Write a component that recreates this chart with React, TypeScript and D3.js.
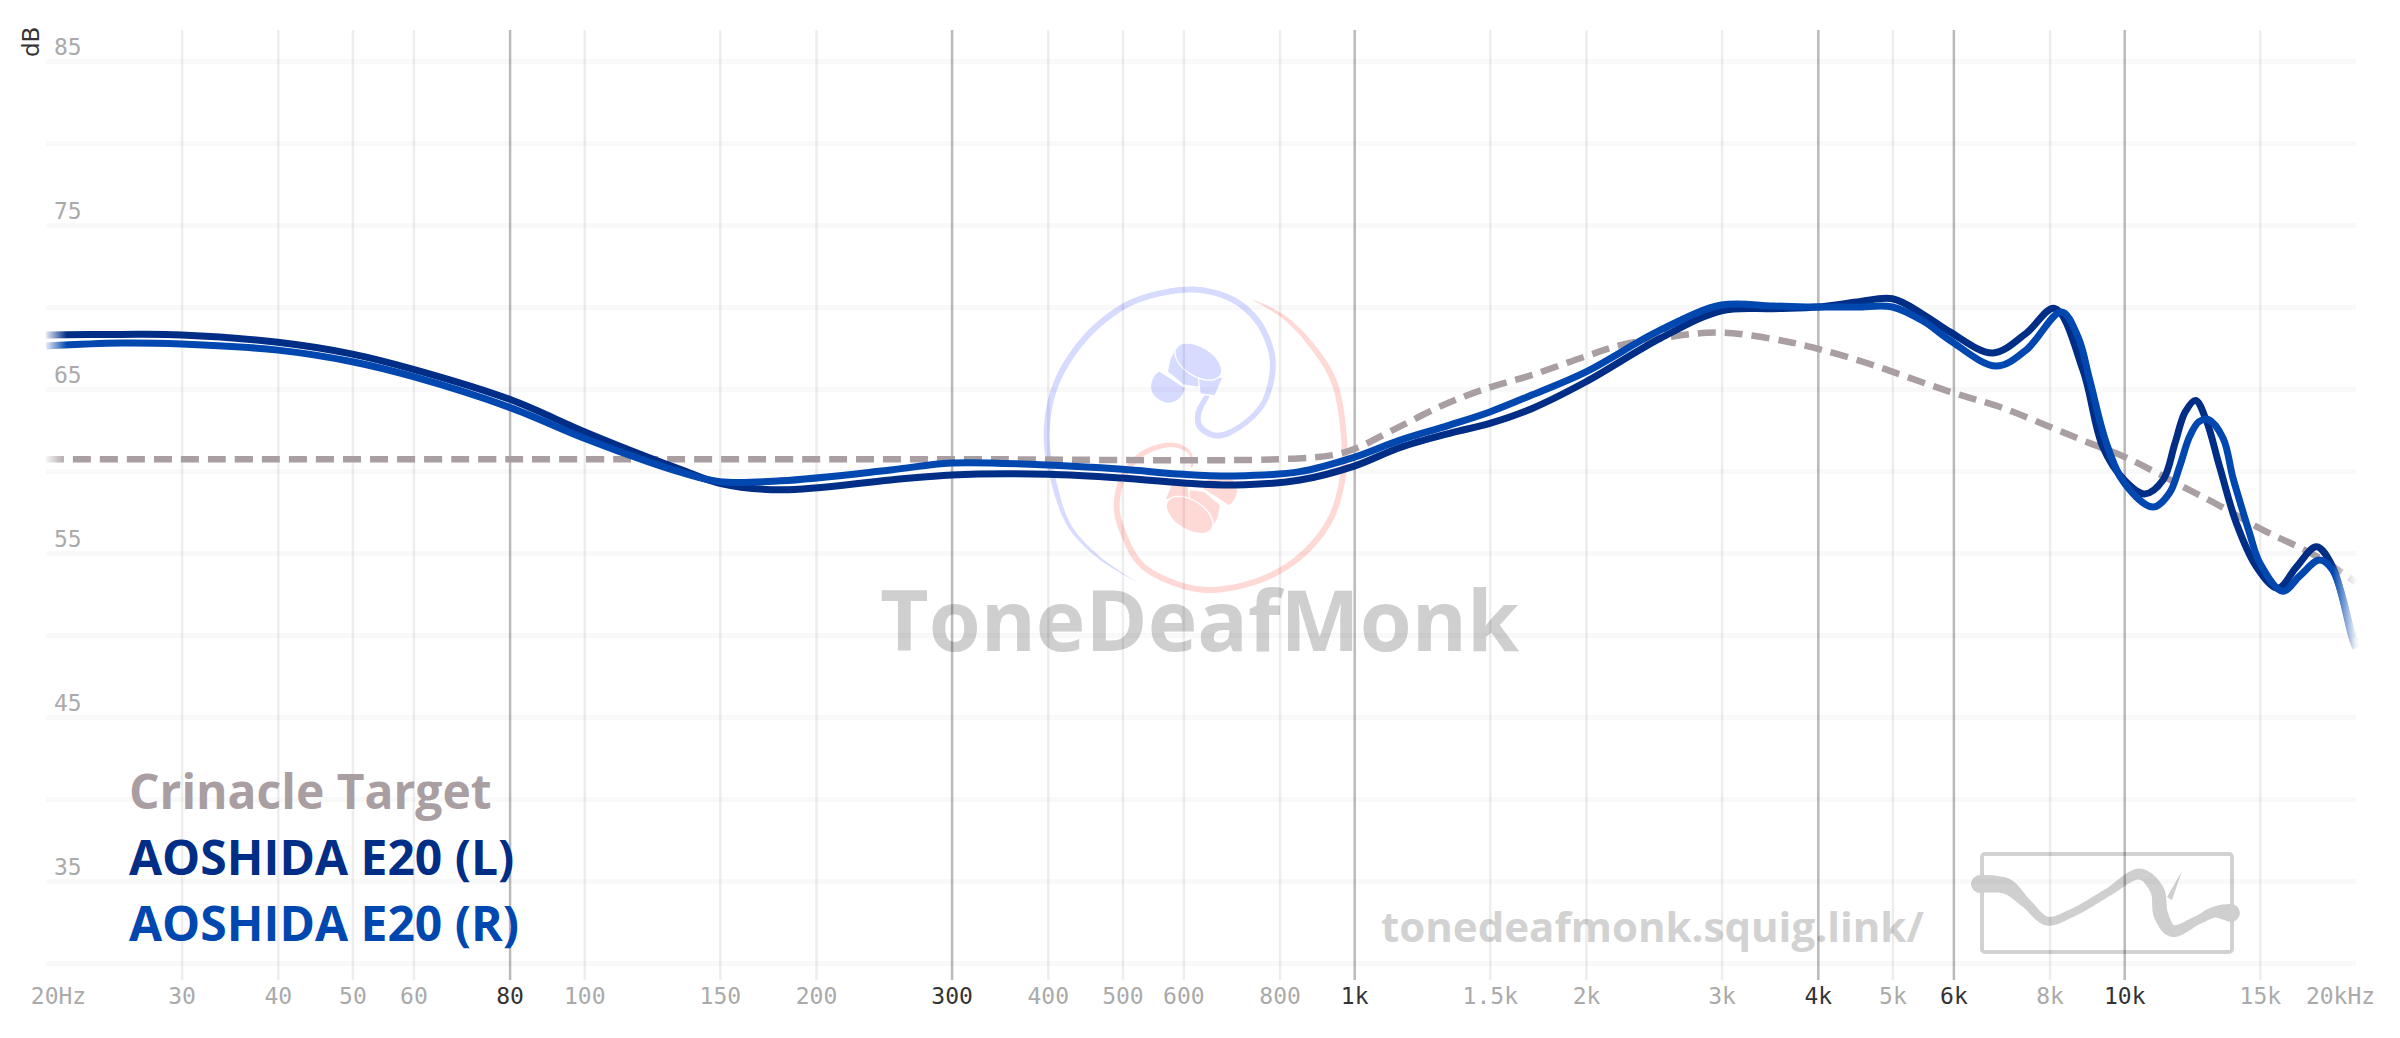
import { useEffect, useRef } from 'react';
import * as d3 from 'd3';

const WIDTH = 2400;
const HEIGHT = 1038;

const margin = { left: 46, right: 44, top: 30, bottom: 58 };

const freqTicks = [20, 30, 40, 50, 60, 80, 100, 150, 200, 300, 400, 500, 600, 800, 1000, 1500, 2000, 3000, 4000, 5000, 6000, 8000, 10000, 15000, 20000];
const boldTicks = [80, 300, 1000, 4000, 6000, 10000];
const dbLines = [85, 80, 75, 70, 65, 60, 55, 50, 45, 40, 35, 30];
const dbLabels = [85, 75, 65, 55, 45, 35];

const leftFreq = [20, 25, 30, 40, 50, 60, 80, 100, 121, 134, 150, 180, 250, 300, 400, 500, 600, 700, 850, 1000, 1145, 1330, 1500, 1700, 2000, 2500, 3000, 3500, 4000, 4500, 5000, 5500, 5930, 6750, 7460, 8120, 8840, 9380, 10000, 10630, 11230, 11640, 12000, 12380, 12780, 13300, 13990, 14850, 15840, 16740, 17770, 18650, 19800, 20000];
const leftDb = [68.29, 68.33, 68.3, 67.85, 67.13, 66.2, 64.37, 62.4, 60.84, 60.06, 59.25, 58.85, 59.45, 59.76, 59.8, 59.57, 59.27, 59.15, 59.45, 60.3, 61.42, 62.3, 62.9, 63.8, 65.44, 68.1, 69.77, 69.9, 70.0, 70.3, 70.5, 69.5, 68.5, 67.2, 68.4, 69.92, 66.15, 61.48, 59.45, 58.6, 59.45, 61.7, 63.6, 64.3, 63.1, 60.27, 56.8, 54.16, 52.85, 54.16, 55.38, 54.16, 49.7, 49.2];

const rightFreq = [20, 25, 30, 40, 50, 60, 80, 100, 121, 134, 150, 180, 250, 300, 400, 500, 600, 700, 850, 1000, 1145, 1330, 1500, 1700, 2000, 2500, 3000, 3500, 4000, 4500, 5000, 5500, 5930, 6820, 7460, 8290, 8710, 9020, 9480, 10000, 10900, 11450, 11800, 12160, 12500, 12850, 13440, 13830, 14120, 14550, 15000, 16070, 16900, 17940, 18650, 19800, 20000];
const rightDb = [67.62, 67.8, 67.74, 67.37, 66.66, 65.75, 63.88, 62.0, 60.57, 59.9, 59.35, 59.4, 60.06, 60.49, 60.36, 60.1, 59.8, 59.7, 59.96, 60.84, 61.87, 62.8, 63.6, 64.63, 66.05, 68.6, 70.12, 70.06, 70.0, 70.0, 70.0, 69.1, 67.99, 66.4, 67.38, 69.7, 68.17, 65.55, 61.7, 59.27, 57.8, 58.66, 60.26, 62.1, 63.0, 63.15, 62.0, 59.65, 58.2, 56.2, 54.4, 52.67, 53.6, 54.57, 53.96, 50.0, 49.6];

const targetFreq = [20, 100, 300, 800, 937, 1000, 1134, 1317, 1500, 1700, 2000, 2230, 2500, 2870, 3100, 3640, 4000, 4620, 5930, 6900, 8000, 9020, 10000, 12160, 13400, 15000, 17770, 19800, 20000];
const targetDb = [60.72, 60.72, 60.72, 60.72, 60.97, 61.34, 62.6, 64.1, 65.1, 65.85, 67.0, 67.7, 68.1, 68.43, 68.4, 67.9, 67.45, 66.6, 64.84, 63.9, 62.7, 61.7, 60.87, 58.84, 57.8, 56.5, 54.8, 53.35, 53.2];

const legendNames = ['Crinacle Target', 'AOSHIDA E20 (L)', 'AOSHIDA E20 (R)'];
const legendColors = ['#a99ea2', '#002d86', '#0047b0'];

// decorative watermark outlines: [x, y, width]
const squiggleOutline = [[1980, 884, 18], [2006, 886, 16], [2026, 903, 10], [2047, 921, 9], [2072, 913, 8], [2107, 893, 8], [2140, 874, 11], [2157, 890, 14], [2161, 915, 15], [2172, 931, 12], [2198, 920, 9], [2215, 912, 11], [2231, 913, 18]];
const blueSpiral = [[410, 935, 2], [300, 865, 8], [210, 770, 12], [165, 650, 16], [140, 500, 18], [165, 350, 18], [250, 210, 18], [370, 110, 18], [480, 70, 18], [600, 60, 18], [700, 90, 18], [770, 150, 18], [810, 230, 18], [818, 300, 18], [790, 400, 16], [720, 470, 16], [650, 497, 18], [600, 470, 18], [595, 430, 18], [630, 365, 14]];
const pinkSpiral = [[760, 90, 3], [850, 140, 12], [930, 220, 16], [1000, 330, 18], [1030, 480, 18], [1030, 610, 18], [990, 750, 18], [900, 860, 18], [780, 930, 18], [620, 960, 18], [500, 930, 18], [420, 880, 18], [370, 790, 18], [350, 710, 18], [370, 620, 18], [430, 550, 16], [520, 525, 14], [570, 550, 10], [575, 590, 8]];

const x = d3.scaleLog().domain([20, 20000]).range([margin.left, WIDTH - margin.right]);
const y = d3.scaleLinear().domain([85, 30]).range([61, 963]);

const curve = d3
  .line<[number, number]>()
  .x((d) => x(d[0]))
  .y((d) => y(d[1]))
  .curve(d3.curveCatmullRom.alpha(0.5));

// brush stroke with varying width: circles stamped along a smooth centre line
const ribbon = (pts: number[][], step: number) => {
  const probe = document.createElementNS('http://www.w3.org/2000/svg', 'path');
  probe.setAttribute('d', d3.line().curve(d3.curveCatmullRom.alpha(0.5))(pts.map((p) => [p[0], p[1]] as [number, number])) as string);
  const total = probe.getTotalLength();
  const chords = [0];
  pts.slice(1).forEach((p, i) => chords.push(chords[i] + Math.hypot(p[0] - pts[i][0], p[1] - pts[i][1])));
  const width = d3.scaleLinear().domain(chords.map((c) => c / chords[chords.length - 1])).range(pts.map((p) => p[2]));
  const path = d3.path();
  d3.range(0, total, step).forEach((l) => {
    const p = probe.getPointAtLength(l);
    const r = width(l / total) / 2;
    path.moveTo(p.x + r, p.y);
    path.arc(p.x, p.y, r, 0, Math.PI * 2);
  });
  return path.toString();
};

// one earphone of the monk logo, in 3x crop units
const drawBud = (parent: any, color: string, transform: string) => {
  const g = parent.append('g').attr('transform', transform).attr('fill', color).attr('stroke', '#fff').attr('stroke-width', 4);
  g.append('path').attr('d', 'M88 125 L165 175 Q150 220 110 218 Q62 205 63 165 Q68 135 88 125Z').attr('stroke', 'none');
  g.append('path').attr('d', 'M135 58 Q150 110 215 140 L205 172 L160 165 L112 125 L120 85Z');
  g.append('path').attr('d', 'M205 140 Q240 148 280 140 L255 198 L210 192Z');
  g.append('ellipse').attr('transform', 'translate(205,95) rotate(32)').attr('rx', 78).attr('ry', 44);
};

const App = () => {
  const ref = useRef<SVGSVGElement>(null);

  useEffect(() => {
    const svg = d3.select(ref.current);
    svg.selectAll('*').remove();

    const defs = svg.append('defs');
    const fade = defs
      .append('linearGradient')
      .attr('id', 'fade')
      .attr('gradientUnits', 'userSpaceOnUse')
      .attr('x1', margin.left)
      .attr('x2', WIDTH - margin.right)
      .attr('y1', 0)
      .attr('y2', 0);
    fade.append('stop').attr('offset', 0).attr('stop-color', '#fff').attr('stop-opacity', 0.1);
    fade.append('stop').attr('offset', 0.009).attr('stop-color', '#fff').attr('stop-opacity', 1);
    fade.append('stop').attr('offset', 0.99).attr('stop-color', '#fff').attr('stop-opacity', 1);
    fade.append('stop').attr('offset', 1).attr('stop-color', '#fff').attr('stop-opacity', 0.05);
    defs
      .append('mask')
      .attr('id', 'fadeMask')
      .attr('maskUnits', 'userSpaceOnUse')
      .attr('x', 0)
      .attr('y', 0)
      .attr('width', WIDTH)
      .attr('height', HEIGHT)
      .append('rect')
      .attr('width', WIDTH)
      .attr('height', HEIGHT)
      .attr('fill', 'url(#fade)');

    // monk logo
    const monk = svg.append('g').attr('transform', 'translate(1000,270) scale(0.3333)');
    monk.append('path').attr('d', ribbon(blueSpiral, 4)).attr('fill', '#d6dbff');
    monk.append('path').attr('d', ribbon(pinkSpiral, 4)).attr('fill', '#ffd9d6');
    const buds = svg.append('g').attr('transform', 'translate(1130,330) scale(0.3333)');
    drawBud(buds, '#d6dbff', '');
    drawBud(buds, '#ffd9d6', 'rotate(180,192,325)');

    // site watermarks
    svg
      .append('text')
      .attr('x', 880)
      .attr('y', 651)
      .attr('font-family', '"Open Sans"')
      .attr('font-weight', 700)
      .attr('font-size', 84)
      .attr('fill', '#cfcfcf')
      .text('ToneDeafMonk');
    svg
      .append('text')
      .attr('x', 1381)
      .attr('y', 942)
      .attr('font-family', '"Open Sans"')
      .attr('font-weight', 700)
      .attr('font-size', 42)
      .attr('fill', '#d2d2d2')
      .text('tonedeafmonk.squig.link/');
    svg
      .append('rect')
      .attr('x', 1982)
      .attr('y', 854)
      .attr('width', 250)
      .attr('height', 98)
      .attr('rx', 3)
      .attr('fill', 'none')
      .attr('stroke', '#d2d2d2')
      .attr('stroke-width', 4);
    svg.append('path').attr('d', ribbon(squiggleOutline, 1.5)).attr('fill', '#cfcfcf');
    svg.append('path').attr('d', 'M2182 871 L2167 897 L2172 900Z').attr('fill', '#cfcfcf');

    // horizontal grid
    const yGrid = svg.append('g').attr('transform', `translate(${margin.left},0)`);
    yGrid
      .call(
        d3
          .axisLeft(y)
          .tickValues(dbLines)
          .tickSize(-(WIDTH - margin.left - margin.right))
          .tickFormat(() => '')
      )
      .call((g) => g.select('.domain').remove());
    yGrid.selectAll('line').attr('stroke', '#000').attr('stroke-opacity', 0.025).attr('stroke-width', 5);

    svg
      .selectAll('text.dblabel')
      .data(dbLabels)
      .enter()
      .append('text')
      .attr('class', 'dblabel')
      .attr('x', 54)
      .attr('y', (d) => y(d) - 6)
      .attr('font-family', '"DejaVu Sans Mono"')
      .attr('font-size', 23)
      .attr('fill', '#aaa')
      .text((d) => d);

    svg
      .append('text')
      .attr('transform', 'translate(39,57) rotate(-90)')
      .attr('font-family', '"DejaVu Sans"')
      .attr('font-size', 23)
      .attr('fill', '#333')
      .text('dB');

    // vertical grid with frequency labels
    const xGrid = svg.append('g').attr('transform', `translate(0,${HEIGHT - margin.bottom})`);
    xGrid
      .call(
        d3
          .axisBottom(x)
          .tickValues(freqTicks)
          .tickSize(-(HEIGHT - margin.bottom - margin.top))
          .tickPadding(8)
          .tickFormat((d) => {
            const v = +d;
            if (v === 20) return '20Hz';
            if (v === 20000) return '20kHz';
            return v >= 1000 ? `${v / 1000}k` : `${v}`;
          })
      )
      .call((g) => g.select('.domain').remove());
    const isBold = (d: number) => boldTicks.includes(d);
    xGrid
      .selectAll<SVGLineElement, number>('line')
      .attr('stroke', '#000')
      .attr('stroke-width', 2.5)
      .attr('stroke-opacity', (d) => (d === 20 || d === 20000 ? 0 : isBold(d) ? 0.27 : 0.07));
    xGrid
      .selectAll<SVGTextElement, number>('text')
      .attr('font-family', '"DejaVu Sans Mono"')
      .attr('font-size', 23)
      .attr('fill', (d) => (isBold(d) ? '#333' : '#aaa'))
      .attr('dx', (d) => (d === 20 ? 12 : d === 20000 ? -16 : 0));

    // curves, faded at both ends
    const curves = svg.append('g').attr('mask', 'url(#fadeMask)').attr('fill', 'none');
    curves
      .append('path')
      .attr('d', curve(d3.zip(targetFreq, targetDb) as [number, number][]))
      .attr('stroke', legendColors[0])
      .attr('stroke-width', 6.5)
      .attr('stroke-dasharray', '18 9');
    curves
      .append('path')
      .attr('d', curve(d3.zip(leftFreq, leftDb) as [number, number][]))
      .attr('stroke', legendColors[1])
      .attr('stroke-width', 7);
    curves
      .append('path')
      .attr('d', curve(d3.zip(rightFreq, rightDb) as [number, number][]))
      .attr('stroke', legendColors[2])
      .attr('stroke-width', 7);

    // legend
    svg
      .selectAll('text.legend')
      .data(legendNames)
      .enter()
      .append('text')
      .attr('class', 'legend')
      .attr('x', 129)
      .attr('y', (d, i) => 809 + i * 66)
      .attr('font-family', '"Open Sans"')
      .attr('font-weight', 700)
      .attr('font-size', 48)
      .attr('fill', (d, i) => legendColors[i])
      .text((d) => d);
  }, []);

  return (
    <svg
      ref={ref}
      width={WIDTH}
      height={HEIGHT}
      style={{ position: 'absolute', left: 0, top: 0, background: '#fff' }}
    />
  );
};

export default App;
